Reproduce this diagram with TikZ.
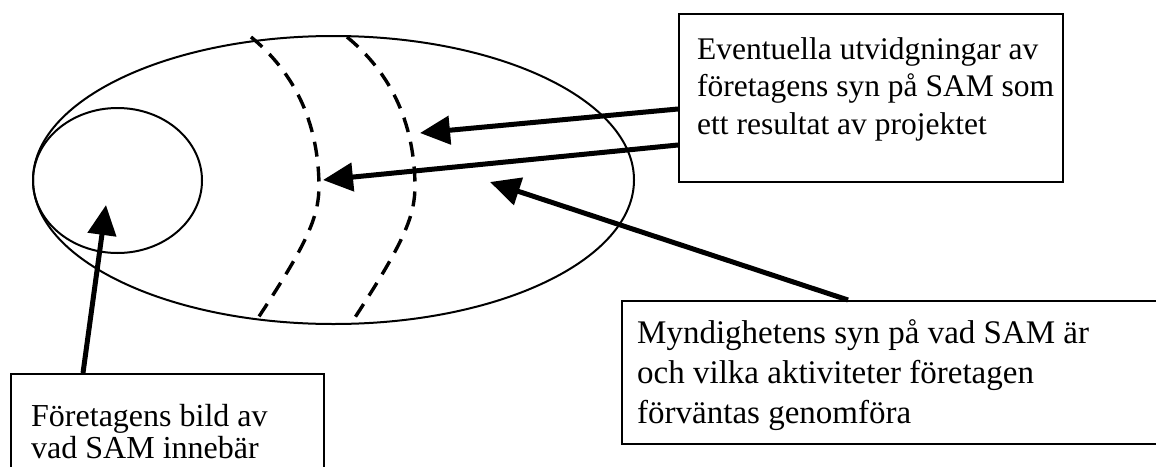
\documentclass[tikz,border=0pt]{standalone}
\usepackage{fontspec}
\setmainfont{Liberation Serif}
\usetikzlibrary{arrows.meta,shapes.geometric}
\begin{document}
\begin{tikzpicture}[x=1pt,y=-1pt,
  outline/.style={draw, ellipse, line width=2pt, inner sep=0pt},
  frame/.style={draw, rectangle, line width=2pt, inner sep=0pt, anchor=north west},
  boxtext/.style={anchor=north west, inner sep=0pt, align=left},
  boundary/.style={line width=3.4pt, dash pattern=on 15pt off 10pt},
  pointer/.style={line width=5pt, -{Triangle[length=30pt,width=28pt]}}]
\useasboundingbox (0,0) rectangle (1156,466);

% the two views of SAM
\node[outline, minimum width=601pt, minimum height=288pt] (sam) at (333.5,180) {};
\node[outline, minimum width=169pt, minimum height=145pt] (bild) at (117.5,180.5) {};

% possible extensions of the companies' view
\draw[boundary] (251,37) .. controls (285,65) and (318,110) .. (319,185)
                         .. controls (319,215) and (310,240) .. (254,324);
\draw[boundary] (347,37) .. controls (381,65) and (414,110) .. (415,185)
                         .. controls (415,215) and (406,240) .. (350,325);

% text boxes
\node[frame, minimum width=384pt, minimum height=168pt] (ext) at (678,13) {};
\node[boxtext, font=\fontsize{31.5}{37.5}\selectfont] (exttext) at (697,37)
  {Eventuella utvidgningar av\\företagens syn på SAM som\\ett resultat av projektet};

\node[frame, minimum width=600pt, minimum height=143pt] (myn) at (621,300) {};
\node[boxtext, font=\fontsize{33}{40}\selectfont] (myntext) at (637,319)
  {Myndighetens syn på vad SAM är\\och vilka aktiviteter företagen\\förväntas genomföra};

\node[frame, minimum width=313pt, minimum height=150pt] (ftg) at (10,373) {};
\node[boxtext, font=\fontsize{32}{32}\selectfont] (ftgtext) at (31,404.5)
  {Företagens bild av\\vad SAM innebär};

% arrow targets
\coordinate (t1) at (420,133);
\coordinate (t2) at (323,180);
\coordinate (t3) at (490,182);
\coordinate (t4) at (106,205);

\draw[pointer] ([yshift=-11pt]ext.west) -- (t1);
\draw[pointer] ([yshift=-47pt]ext.west) -- (t2);
\draw[pointer] ([xshift=-74pt]myn.north) -- (t3);
\draw[pointer] ([xshift=-84.5pt]ftg.north) -- (t4);
\end{tikzpicture}
\end{document}
